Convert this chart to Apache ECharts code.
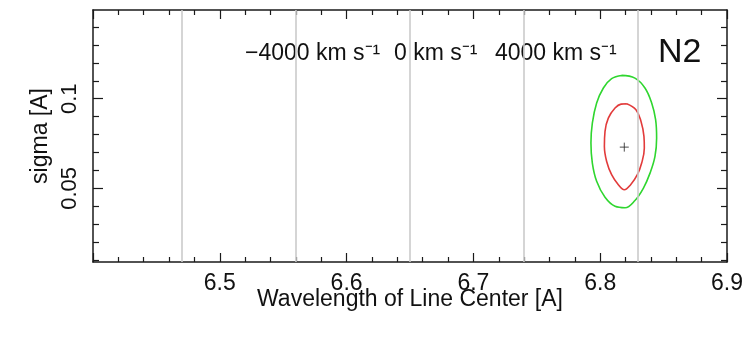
<!DOCTYPE html>
<html>
<head>
<meta charset="utf-8">
<script src="https://cdn.jsdelivr.net/npm/echarts@6/dist/echarts.min.js"></script>
<style>
html,body{margin:0;padding:0;background:#fff;}
#chart{width:750px;height:337px;}
</style>
</head>
<body>
<div id="chart"></div>
<script>
// ---- data ----
const xRange = [6.4, 6.9];
const yRange = [0.0089, 0.1495];
const xMajorTicks = [6.4, 6.5, 6.6, 6.7, 6.8, 6.9];
const xTickLabels = [6.5, 6.6, 6.7, 6.8, 6.9];
const xMinorTicks = [6.42, 6.44, 6.46, 6.48, 6.52, 6.54, 6.56, 6.58, 6.62, 6.64, 6.66, 6.68,
                     6.72, 6.74, 6.76, 6.78, 6.82, 6.84, 6.86, 6.88];
const yMajorTicks = [0.05, 0.1];
const yTickLabels = [0.05, 0.1];
const yMinorTicks = [0.01, 0.02, 0.03, 0.04, 0.06, 0.07, 0.08, 0.09, 0.11, 0.12, 0.13, 0.14];
const velocityLines = [6.4706, 6.5593, 6.6480, 6.7367, 6.8257];
const velocityLabels = ['\u22124000 km s\u207B\u00B9', '0 km s\u207B\u00B9', '4000 km s\u207B\u00B9'];
const panelLabel = 'N2';
const bestFit = [[6.8190, 0.0730]];
const contourOuter = [
  [6.8169, 0.1130], [6.8274, 0.1115], [6.8353, 0.1060], [6.8406, 0.0976], [6.8437, 0.0883],
  [6.8445, 0.0781], [6.8432, 0.0678], [6.8393, 0.0585], [6.8340, 0.0500], [6.8274, 0.0432],
  [6.8196, 0.0392], [6.8117, 0.0400], [6.8038, 0.0450], [6.7972, 0.0539], [6.7938, 0.0641],
  [6.7927, 0.0753], [6.7938, 0.0864], [6.7972, 0.0976], [6.8025, 0.1060], [6.8090, 0.1112],
  [6.8169, 0.1130]
];
const contourInner = [
  [6.8209, 0.0972], [6.8282, 0.0939], [6.8322, 0.0873], [6.8345, 0.0790], [6.8348, 0.0725],
  [6.8327, 0.0641], [6.8293, 0.0576], [6.8240, 0.0520], [6.8190, 0.0492], [6.8143, 0.0520],
  [6.8090, 0.0576], [6.8051, 0.0650], [6.8033, 0.0734], [6.8038, 0.0818], [6.8064, 0.0892],
  [6.8117, 0.0948], [6.8164, 0.0970], [6.8209, 0.0972]
];

// ---- chart ----
const chart = echarts.init(document.getElementById('chart'), null, {renderer: 'canvas'});
const axisBlack = '#1a1a1a';
const sans = 'Liberation Sans, Arial, Helvetica, sans-serif';

function xAxisDef(pos, ticks, len, withLine, withLabel) {
  return {
    type: 'value', position: pos, min: xRange[0], max: xRange[1],
    splitLine: {show: false},
    axisLine: {show: withLine, onZero: false, lineStyle: {color: axisBlack, width: 1.5}},
    axisTick: {show: true, inside: true, length: len, customValues: ticks,
               lineStyle: {color: axisBlack, width: 1.2}},
    axisLabel: withLabel ? {show: true, customValues: xTickLabels, margin: 10,
               fontFamily: sans, fontSize: 23, color: '#111',
               formatter: v => v.toFixed(1)} : {show: false},
    name: withLabel ? 'Wavelength of Line Center [A]' : '',
    nameLocation: 'middle', nameGap: 26, nameMoveOverlap: false,
    nameTextStyle: {fontFamily: sans, fontSize: 23, color: '#111', verticalAlign: 'top'}
  };
}
function yAxisDef(pos, ticks, len, withLine, withLabel) {
  return {
    type: 'value', position: pos, min: yRange[0], max: yRange[1],
    splitLine: {show: false},
    axisLine: {show: withLine, onZero: false, lineStyle: {color: axisBlack, width: 1.5}},
    axisTick: {show: true, inside: true, length: len, customValues: ticks,
               lineStyle: {color: axisBlack, width: 1.2}},
    axisLabel: withLabel ? {show: true, customValues: yTickLabels, rotate: 90, margin: 12,
               fontFamily: sans, fontSize: 22, color: '#111',
               formatter: v => String(+v.toFixed(2))} : {show: false},
    name: withLabel ? 'sigma [A]' : '',
    nameLocation: 'middle', nameRotate: 90, nameGap: 41, nameMoveOverlap: false,
    nameTextStyle: {fontFamily: sans, fontSize: 23, color: '#111'}
  };
}

const option = {
  animation: false,
  backgroundColor: '#ffffff',
  grid: {left: 93, right: 23, top: 10, bottom: 75, containLabel: false},
  xAxis: [
    xAxisDef('bottom', xMajorTicks, 9, true, true),
    xAxisDef('bottom', xMinorTicks, 5, false, false),
    xAxisDef('top', xMajorTicks, 9, true, false),
    xAxisDef('top', xMinorTicks, 5, false, false)
  ],
  yAxis: [
    yAxisDef('left', yMajorTicks, 10, true, true),
    yAxisDef('left', yMinorTicks, 6, false, false),
    yAxisDef('right', yMajorTicks, 10, true, false),
    yAxisDef('right', yMinorTicks, 6, false, false)
  ],
  series: [
    {
      type: 'line', xAxisIndex: 0, yAxisIndex: 0, data: [], silent: true,
      markLine: {
        silent: true, symbol: ['none', 'none'], label: {show: false},
        lineStyle: {color: '#cbcbcb', width: 1.6, type: 'solid'},
        data: velocityLines.map(v => ({xAxis: v}))
      }
    },
    {
      type: 'line', xAxisIndex: 0, yAxisIndex: 0, data: contourOuter,
      smooth: 0.4, showSymbol: false, symbol: 'none',
      lineStyle: {color: '#2fd62f', width: 1.6}
    },
    {
      type: 'line', xAxisIndex: 0, yAxisIndex: 0, data: contourInner,
      smooth: 0.4, showSymbol: false, symbol: 'none',
      lineStyle: {color: '#e23b3b', width: 1.6}
    },
    {
      type: 'scatter', xAxisIndex: 0, yAxisIndex: 0, data: bestFit,
      symbol: 'path://M0,5H10M5,0V10', symbolSize: 9,
      itemStyle: {color: 'transparent', borderColor: '#222', borderWidth: 1}
    }
  ],
  graphic: [
    {type: 'text', left: 245, top: 42, style: {text: velocityLabels[0], fontFamily: sans, fontSize: 23, fill: '#111'}},
    {type: 'text', left: 394, top: 42, style: {text: velocityLabels[1], fontFamily: sans, fontSize: 23, fill: '#111'}},
    {type: 'text', left: 495, top: 42, style: {text: velocityLabels[2], fontFamily: sans, fontSize: 23, fill: '#111'}},
    {type: 'text', left: 658, top: 36, style: {text: panelLabel, fontFamily: sans, fontSize: 34, fill: '#111'}}
  ]
};
chart.setOption(option);
</script>
</body>
</html>
